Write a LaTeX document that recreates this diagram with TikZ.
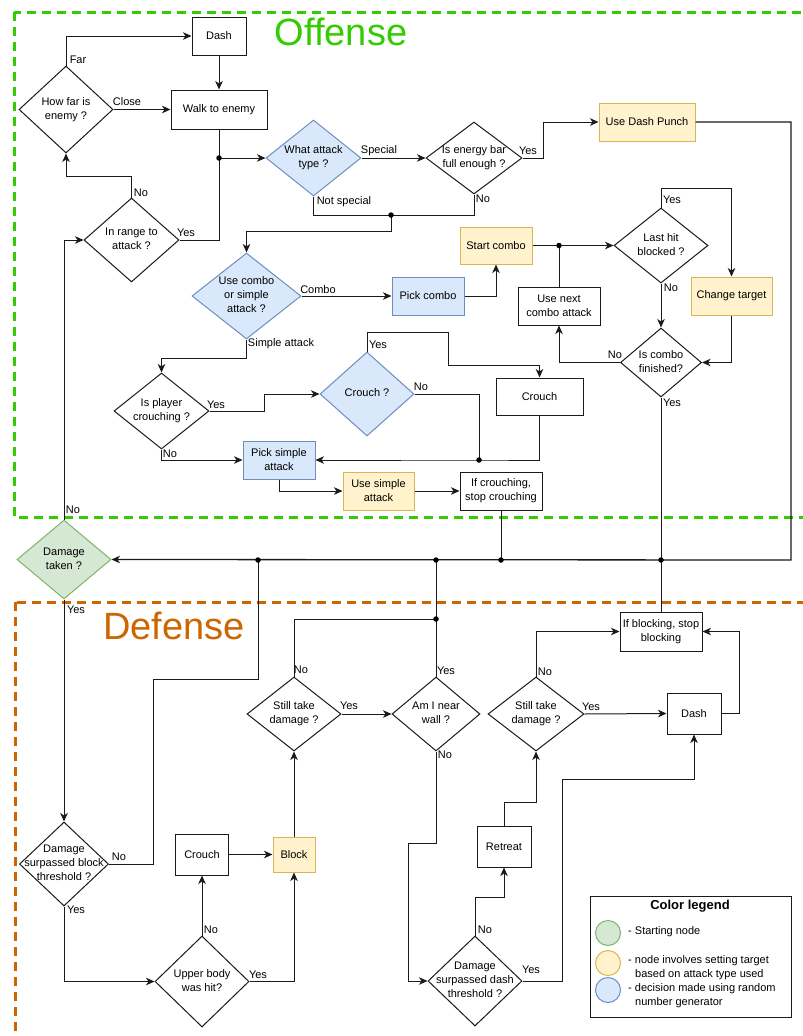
\documentclass[tikz,border=0pt]{standalone}
\usepackage{fontspec}
\setmainfont{Liberation Sans}
\usetikzlibrary{shapes.geometric,arrows.meta}
\definecolor{yfill}{HTML}{FFF2CC}
\definecolor{ybord}{HTML}{D6B656}
\definecolor{bfill}{HTML}{DAE8FC}
\definecolor{bbord}{HTML}{6C8EBF}
\definecolor{gfill}{HTML}{D5E8D4}
\definecolor{gbord}{HTML}{82B366}
\definecolor{offgreen}{HTML}{33CC00}
\definecolor{deforange}{HTML}{CC6600}
\definecolor{linec}{HTML}{1A1A1A}
\newcommand\nfont{\fontsize{11}{14}\selectfont}
\newcommand\dtxt[1]{\makebox[0pt]{\begin{tabular}{@{}c@{}}#1\end{tabular}}}
\tikzset{
  base/.style={font=\nfont, inner sep=0pt, align=center, line width=1pt},
  proc/.style={base, rectangle, draw=linec},
  yel/.style={base, rectangle, draw=ybord, fill=yfill},
  bluebox/.style={base, rectangle, draw=bbord, fill=bfill},
  dec/.style={base, diamond, draw=linec, aspect=1},
  bluedec/.style={dec, draw=bbord, fill=bfill},
  greendec/.style={dec, draw=gbord, fill=gfill},
  lab/.style={font=\nfont, inner sep=0pt},
  conn/.style={line width=1pt, draw=linec},
  arr/.style={conn, -{Stealth[length=8.5pt,width=7.5pt,inset=2.5pt]}},
  dot/.style={circle, fill=black, inner sep=0pt, minimum size=5.5pt},
  offense/.style={draw=offgreen, line width=3pt, dash pattern=on 9pt off 6pt},
  defense/.style={draw=deforange, line width=3pt, dash pattern=on 9pt off 6pt},
  legcirc/.style={circle, line width=1pt, minimum size=25pt, inner sep=0pt},
}
\begin{document}
\begin{tikzpicture}[x=1pt,y=-1pt]
\useasboundingbox (0,0) rectangle (803,1036);
\clip (0,0) rectangle (803,1036);
\fill[white] (0,0) rectangle (803,1036);

% regions
\draw[offense] (14,12) rectangle (840,517);
\draw[defense] (15,602) rectangle (840,1080);
\node[text=offgreen, font=\fontsize{38}{40}\selectfont, inner sep=0pt] (offtitle) at (341,32) {Offense};
\node[text=deforange, font=\fontsize{38}{40}\selectfont, inner sep=0pt] (deftitle) at (174,626) {Defense};

% offense nodes
\node[proc, minimum width=54, minimum height=38] (dash) at (219,36) {Dash};
\node[proc, minimum width=96, minimum height=39] (walk) at (219,109.5) {Walk to enemy};
\node[dec, minimum width=94, minimum height=87] (howfar) at (66,109.5) {\dtxt{How far is\\enemy ?}};
\node[dec, minimum width=95, minimum height=84] (inrange) at (131.5,240) {\dtxt{In range to\\attack ?}};
\node[bluedec, minimum width=95, minimum height=76] (attack) at (313.5,158) {\dtxt{What attack\\type ?}};
\node[dec, minimum width=96, minimum height=72] (energy) at (474,158) {\dtxt{Is energy bar\\full enough ?}};
\node[yel, minimum width=96, minimum height=38] (dashpunch) at (647,122) {Use Dash Punch};
\node[bluedec, minimum width=109, minimum height=86] (usecombo) at (246.5,296) {\dtxt{Use combo\\or simple\\attack ?}};
\node[bluebox, minimum width=72, minimum height=38] (pickcombo) at (428,296) {Pick combo};
\node[yel, minimum width=72, minimum height=37] (startcombo) at (496,245.5) {Start combo};
\node[dec, minimum width=94, minimum height=75] (lasthit) at (661,245.5) {\dtxt{Last hit\\blocked ?}};
\node[yel, minimum width=81, minimum height=38] (change) at (731.5,296) {Change target};
\node[dec, minimum width=81, minimum height=69] (combofin) at (661,362.5) {\dtxt{Is combo\\finished?}};
\node[proc, minimum width=82, minimum height=38] (usenext) at (559,306) {Use next\\combo attack};
\node[dec, minimum width=95, minimum height=76] (isplayer) at (161.5,411) {\dtxt{Is player\\crouching ?}};
\node[bluedec, minimum width=94, minimum height=84] (crouchq) at (367,394) {\dtxt{Crouch ?}};
\node[proc, minimum width=87, minimum height=37] (crouch1) at (539.5,396.5) {Crouch};
\node[bluebox, minimum width=72, minimum height=38] (picksimple) at (279,460) {Pick simple\\attack};
\node[yel, minimum width=71, minimum height=38] (usesimple) at (378.5,491) {Use simple\\attack};
\node[proc, minimum width=82, minimum height=38] (ifcrouch) at (501,491) {If crouching,\\stop crouching};

% start
\node[greendec, minimum width=94, minimum height=79] (damage) at (64,559.5) {\dtxt{Damage\\taken ?}};

% defense nodes
\node[dec, minimum width=89, minimum height=84] (dmgblock) at (64,864) {\dtxt{Damage\\surpassed block\\threshold ?}};
\node[dec, minimum width=94, minimum height=91] (upper) at (202,981.5) {\dtxt{Upper body\\was hit?}};
\node[proc, minimum width=53, minimum height=41] (crouch2) at (202,854.5) {Crouch};
\node[yel, minimum width=42, minimum height=35] (block) at (294,854.5) {Block};
\node[dec, minimum width=94, minimum height=74] (still1) at (294,714) {\dtxt{Still take\\damage ?}};
\node[dec, minimum width=88, minimum height=74] (wall) at (436,714) {\dtxt{Am I near\\wall ?}};
\node[dec, minimum width=94, minimum height=90] (dashq) at (475,981) {\dtxt{Damage\\surpassed dash\\threshold ?}};
\node[proc, minimum width=54, minimum height=41] (retreat) at (504,846.5) {Retreat};
\node[dec, minimum width=96, minimum height=74] (still2) at (536,714) {\dtxt{Still take\\damage ?}};
\node[proc, minimum width=54, minimum height=41] (dash2) at (694,713.5) {Dash};
\node[proc, minimum width=82, minimum height=39] (ifblock) at (661,631.5) {If blocking, stop\\blocking};

% junctions and bends
\coordinate (j1) at (219,158);
\coordinate (j2) at (391,215);
\coordinate (j3) at (559,245.5);
\coordinate (j4) at (479,460);
\coordinate (j5) at (501,560);
\coordinate (j6) at (661,560);
\coordinate (j7) at (258,560);
\coordinate (j8) at (436,619);
\coordinate (j9) at (436,560);
\coordinate (c1) at (66,176);
\coordinate (c2) at (543,122);
\coordinate (c3) at (391,231);
\coordinate (c4) at (731.5,188);
\coordinate (c5) at (246.5,358);
\coordinate (c6) at (264,394);
\coordinate (c7) at (448,332);
\coordinate (c8) at (539.5,365);
\coordinate (c9) at (791,560);
\coordinate (c10) at (153,679);
\coordinate (c11) at (408,843);
\coordinate (c12) at (504,897);
\coordinate (c13) at (536,802);
\coordinate (c14) at (739,631.5);
\coordinate (c15) at (562,779);

% offense connectors
\draw[arr] (howfar.north) |- (dash.west);
\draw[arr] (howfar.east) -- (walk.west);
\draw[arr] (dash.south) -- (walk.north);
\draw[arr] (walk.south) -- (j1) -- (attack.west);
\draw[conn] (inrange.east) -| (j1);
\draw[arr] (inrange.north) |- (c1) -- (howfar.south);
\draw[arr] (attack.east) -- (energy.west);
\draw[arr] (energy.east) -| (c2) -- (dashpunch.west);
\draw[conn] (energy.south) |- (j2);
\draw[conn] (attack.south) |- (j2);
\draw[arr] (j2) -- (c3) -| (usecombo.north);
\draw[arr] (usecombo.east) -- (pickcombo.west);
\draw[arr] (pickcombo.east) -| (startcombo.south);
\draw[arr] (startcombo.east) -- (j3) -- (lasthit.west);
\draw[arr] (lasthit.north) |- (c4) -- (change.north);
\draw[arr] (change.south) |- (combofin.east);
\draw[arr] (lasthit.south) -- (combofin.north);
\draw[arr] (combofin.west) -| (usenext.south);
\draw[conn] (usenext.north) -- (j3);
\draw[conn] (combofin.south) -- (j6);
\draw[arr] (usecombo.south) -- (c5) -| (isplayer.north);
\draw[arr] (isplayer.east) -| (c6) -- (crouchq.west);
\draw[arr] (crouchq.north) |- (c7) |- (c8) -- (crouch1.north);
\draw[conn] (crouchq.east) -| (j4);
\draw[arr] (crouch1.south) |- (j4) -- (picksimple.east);
\draw[arr] (isplayer.south) |- (picksimple.west);
\draw[arr] (picksimple.south) |- (usesimple.west);
\draw[arr] (usesimple.east) -- (ifcrouch.west);
\draw[conn] (ifcrouch.south) -- (j5);
\draw[arr, line width=1.3pt] (dashpunch.east) -| (c9) -- (damage.east);

% start connectors
\draw[arr] (damage.north) |- (inrange.west);
\draw[arr] (damage.south) -- (dmgblock.north);

% defense connectors
\draw[conn] (dmgblock.east) -| (c10) -| (j7);
\draw[arr] (dmgblock.south) |- (upper.west);
\draw[arr] (upper.north) -- (crouch2.south);
\draw[arr] (crouch2.east) -- (block.west);
\draw[arr] (upper.east) -| (block.south);
\draw[arr] (block.north) -- (still1.south);
\draw[arr] (still1.east) -- (wall.west);
\draw[conn] (still1.north) |- (j8) -- (j9);
\draw[conn] (wall.north) -- (j8);
\draw[arr] (wall.south) |- (c11) |- (dashq.west);
\draw[arr] (dashq.north) |- (c12) -- (retreat.south);
\draw[arr] (retreat.north) |- (c13) -- (still2.south);
\draw[arr] (still2.north) |- (ifblock.west);
\draw[arr] (still2.east) -- (dash2.west);
\draw[arr] (dash2.east) -| (c14) -- (ifblock.east);
\draw[arr] (dashq.east) -| (c15) -| (dash2.south);
\draw[conn] (ifblock.north) -- (j6);

% dots
\foreach \j in {j1,j2,j3,j4,j5,j6,j7,j8,j9} \node[dot] at (\j) {};

% edge labels
\node[lab] (lfar) at (78,60) {Far};
\node[lab] (lclose) at (127,102) {Close};
\node[lab] (lirno) at (141,193) {No};
\node[lab] (liryes) at (186,233) {Yes};
\node[lab] (lspecial) at (379,151) {Special};
\node[lab] (lnotspecial) at (344,202) {Not special};
\node[lab] (lenyes) at (528,151) {Yes};
\node[lab] (lenno) at (483,199) {No};
\node[lab] (lcombo) at (318,290) {Combo};
\node[lab] (lsimple) at (281,344) {Simple attack};
\node[lab] (llhyes) at (672,200) {Yes};
\node[lab] (llhno) at (671,288) {No};
\node[lab] (lcfno) at (615,355) {No};
\node[lab] (lcfyes) at (672,403) {Yes};
\node[lab] (lipyes) at (216,405) {Yes};
\node[lab] (lcqyes) at (378,345) {Yes};
\node[lab] (lcqno) at (421,387) {No};
\node[lab] (lipno) at (170,454) {No};
\node[lab] (ldtno) at (73,510) {No};
\node[lab] (ldtyes) at (76,610) {Yes};
\node[lab] (ldbno) at (119,857) {No};
\node[lab] (ldbyes) at (76,910) {Yes};
\node[lab] (lubno) at (211,930) {No};
\node[lab] (lubyes) at (258,975) {Yes};
\node[lab] (ls1no) at (301,670) {No};
\node[lab] (ls1yes) at (349,706) {Yes};
\node[lab] (lwyes) at (446,671) {Yes};
\node[lab] (lwno) at (445,755) {No};
\node[lab] (ls2no) at (545,672) {No};
\node[lab] (ls2yes) at (591,707) {Yes};
\node[lab] (ldqno) at (485,930) {No};
\node[lab] (ldqyes) at (531,970) {Yes};

% legend
\node[draw=linec, line width=1pt, minimum width=201, minimum height=121, inner sep=0pt] (legend) at (690.5,956.5) {};
\node[font=\fontsize{13}{15}\selectfont\bfseries, inner sep=0pt] (legtitle) at (690,906) {Color legend};
\node[legcirc, draw=gbord, fill=gfill] (leggreen) at (608,933) {};
\node[legcirc, draw=ybord, fill=yfill] (legyellow) at (608,963) {};
\node[legcirc, draw=bbord, fill=bfill] (legblue) at (608,990) {};
\node[lab, anchor=west] (legt1) at (628,932) {- Starting node};
\node[lab, anchor=west] (legt2) at (628,961) {- node involves setting target};
\node[lab, anchor=west] (legt3) at (635,975) {based on attack type used};
\node[lab, anchor=west] (legt4) at (628,989) {- decision made using random};
\node[lab, anchor=west] (legt5) at (635,1003) {number generator};
\end{tikzpicture}
\end{document}
